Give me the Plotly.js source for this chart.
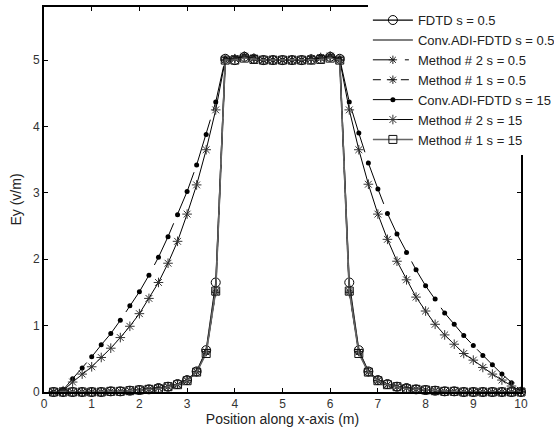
<!DOCTYPE html>
<html>
<head>
<meta charset="utf-8">
<script src="https://cdn.plot.ly/plotly-3.0.1.min.js"></script>
<style>html,body{margin:0;padding:0;background:#fff;}#chart{width:554px;height:431px;}</style>
</head>
<body>
<div id="chart"></div>
<script>
// Position along x-axis (m)
const xPos = [0.2,0.4,0.6,0.8,1.0,1.2,1.4,1.6,1.8,2.0,2.2,2.4,2.6,2.8,3.0,3.2,3.4,3.6,3.8,4.0,
              4.2,4.4,4.6,4.8,5.0,5.2,5.4,5.6,5.8,6.0,6.2,6.4,6.6,6.8,7.0,7.2,7.4,7.6,7.8,8.0,
              8.2,8.4,8.6,8.8,9.0,9.2,9.4,9.6,9.8,10.0];

const fdtd05 = [0,0,0,0,0,0,0.01,0.01,0.02,0.03,0.04,0.06,0.08,0.12,0.18,0.31,0.63,1.65,5.02,5.0,
                5.05,5.02,5.0,5.0,5.0,5.0,5.0,5.01,5.02,5.05,5.02,1.65,0.63,0.31,0.18,0.12,0.08,0.06,0.04,0.03,
                0.02,0.01,0.01,0,0,0,0,0,0,0];
const convAdi05 = [0,0,0,0,0,0,0.01,0.01,0.02,0.03,0.04,0.06,0.08,0.11,0.17,0.30,0.60,1.55,5.0,5.0,
                   5.04,5.02,5.0,5.0,5.0,5.0,5.0,5.01,5.02,5.04,5.0,1.55,0.60,0.30,0.17,0.11,0.08,0.06,0.04,0.03,
                   0.02,0.01,0.01,0,0,0,0,0,0,0];
const method2s05 = [0,0,0,0,0,0,0.01,0.01,0.02,0.03,0.04,0.06,0.08,0.11,0.17,0.30,0.60,1.50,5.0,5.02,
                    5.06,5.02,5.0,5.0,5.0,5.0,5.0,5.02,5.03,5.06,5.0,1.50,0.60,0.30,0.17,0.11,0.08,0.06,0.04,0.03,
                    0.02,0.01,0.01,0,0,0,0,0,0,0];
const method1s05 = [0,0,0,0,0,0,0.01,0.01,0.02,0.03,0.04,0.06,0.08,0.11,0.17,0.31,0.61,1.52,5.0,5.03,
                    5.06,5.03,5.0,5.0,5.0,5.0,5.0,5.02,5.03,5.06,5.0,1.52,0.61,0.31,0.17,0.11,0.08,0.06,0.04,0.03,
                    0.02,0.01,0.01,0,0,0,0,0,0,0];
const convAdi15 = [0,0.03,0.20,0.36,0.53,0.71,0.88,1.08,1.30,1.51,1.76,2.03,2.34,2.67,3.02,3.42,3.88,4.37,5.02,5.02,
                   5.05,5.03,5.0,5.0,5.0,5.0,5.0,5.02,5.03,5.05,5.02,4.37,3.90,3.45,3.06,2.69,2.38,2.10,1.84,1.60,
                   1.40,1.19,1.02,0.85,0.70,0.55,0.41,0.27,0.14,0.02];
const method2s15 = [0,0.02,0.15,0.27,0.38,0.52,0.66,0.82,0.99,1.18,1.41,1.65,1.94,2.27,2.68,3.12,3.65,4.25,5.0,5.02,
                    5.06,5.03,5.0,5.0,5.0,5.0,5.0,5.02,5.04,5.06,5.0,4.25,3.65,3.13,2.68,2.30,1.97,1.69,1.43,1.22,
                    1.02,0.86,0.72,0.58,0.48,0.37,0.27,0.18,0.09,0.01];
const method1s15 = [0,0,0,0,0,0,0.01,0.01,0.02,0.03,0.04,0.05,0.08,0.11,0.17,0.30,0.58,1.52,5.0,5.0,
                    5.03,5.01,5.0,5.0,5.0,5.0,5.0,5.0,5.01,5.03,5.0,1.52,0.58,0.30,0.17,0.11,0.08,0.05,0.04,0.03,
                    0.02,0.01,0.01,0,0,0,0,0,0,0];

const seriesNames = ['FDTD s = 0.5','Conv.ADI-FDTD s = 0.5','Method # 2 s = 0.5','Method # 1 s = 0.5',
                     'Conv.ADI-FDTD s = 15','Method # 2 s = 15','Method # 1 s = 15'];

const font = 'Liberation Sans, Arial, sans-serif';

const traces = [
  {x: xPos, y: fdtd05, name: seriesNames[0], mode: 'lines+markers',
   line: {color: '#000', width: 1.2},
   marker: {symbol: 'circle-open', size: 9, color: '#000', line: {width: 1}}},
  {x: xPos, y: convAdi05, name: seriesNames[1], mode: 'lines',
   line: {color: '#555', width: 1.5}},
  {x: xPos, y: method2s05, name: seriesNames[2], mode: 'lines+markers',
   line: {color: '#000', width: 1, dash: '22px,10px,4px,10px'},
   marker: {symbol: 'asterisk-open', size: 7, color: '#222', line: {width: 1}}},
  {x: xPos, y: method1s05, name: seriesNames[3], mode: 'lines+markers',
   line: {color: '#000', width: 1, dash: '8px,6px'},
   marker: {symbol: 'asterisk-open', size: 7, color: '#222', line: {width: 1}}},
  {x: xPos, y: convAdi15, name: seriesNames[4], mode: 'lines+markers',
   line: {color: '#000', width: 1, dash: '46px,9px'},
   marker: {symbol: 'circle', size: 5, color: '#000'}},
  {x: xPos, y: method2s15, name: seriesNames[5], mode: 'lines+markers',
   line: {color: '#000', width: 1},
   marker: {symbol: 'asterisk-open', size: 8, color: '#333', line: {width: 1}}},
  {x: xPos, y: method1s15, name: seriesNames[6], mode: 'lines+markers',
   line: {color: '#666', width: 1.5},
   marker: {symbol: 'square-open', size: 8, color: '#111', line: {width: 1}}}
].map(t => Object.assign(t, {type: 'scatter', cliponaxis: false}));

const axisCommon = {
  showgrid: false, zeroline: false, showline: true, linecolor: '#000', linewidth: 1.8,
  ticks: 'inside', ticklen: 4, tickwidth: 1, tickcolor: '#000', mirror: 'ticks',
  tickfont: {family: font, size: 12, color: '#333'}, dtick: 1
};

const layout = {
  width: 554, height: 431,
  margin: {l: 44, r: 33, t: 7, b: 39, autoexpand: false},
  paper_bgcolor: '#fff', plot_bgcolor: '#fff',
  font: {family: font, color: '#333'},
  showlegend: true,
  legend: {x: 0.679, y: 1.005, xanchor: 'left', yanchor: 'top',
           bgcolor: '#fff', borderwidth: 0, itemwidth: 40,
           font: {family: font, size: 13, color: '#222'}},
  xaxis: Object.assign({}, axisCommon, {range: [0, 10],
    title: {text: 'Position along x-axis (m)', font: {family: font, size: 14, color: '#222'}, standoff: 2}}),
  yaxis: Object.assign({}, axisCommon, {range: [0, 5.8],
    title: {text: 'Ey (v/m)', font: {family: font, size: 14, color: '#222'}, standoff: 8}})
};

Plotly.newPlot('chart', traces, layout, {displayModeBar: false, staticPlot: true});
</script>
</body>
</html>
